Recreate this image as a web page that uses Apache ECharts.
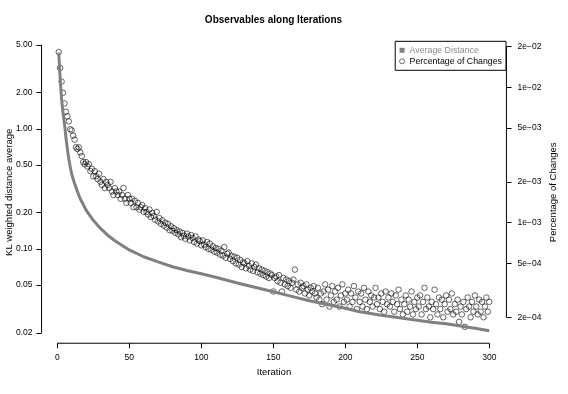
<!DOCTYPE html>
<html><head><meta charset="utf-8">
<script src="https://cdn.jsdelivr.net/npm/echarts@6/dist/echarts.min.js"></script>
<style>html,body{margin:0;padding:0;background:#fff}#c{width:568px;height:394px}</style>
</head><body><div id="c"></div>
<script>
const chartTitle = "Observables along Iterations";
const xName = "Iteration";
const leftName = "KL weighted distance average";
const rightName = "Percentage of Changes";
const xTicks = [0, 50, 100, 150, 200, 250, 300];
const leftTicks = [0.02, 0.05, 0.1, 0.2, 0.5, 1, 2, 5];
const rightTicks = [2e-4, 5e-4, 1e-3, 2e-3, 5e-3, 1e-2, 2e-2];

// Average Distance (left axis), read at selected iterations
const distIter = [1, 2, 3, 4, 5, 6, 7, 8, 9, 10, 12, 14, 16, 18, 20, 25, 30, 35, 40, 50, 60, 70, 80, 90, 100, 110, 125, 140, 150, 160, 175, 190, 200, 210, 225, 240, 250, 260, 270, 280, 290, 300];
const distValue = [4.3, 2.6, 1.75, 1.35, 1.1, 0.85, 0.68, 0.56, 0.48, 0.42, 0.35, 0.30, 0.26, 0.235, 0.21, 0.173, 0.148, 0.13, 0.117, 0.098, 0.086, 0.078, 0.071, 0.066, 0.062, 0.058, 0.052, 0.047, 0.044, 0.041, 0.037, 0.034, 0.032, 0.030, 0.028, 0.0265, 0.0255, 0.0245, 0.0238, 0.0228, 0.0218, 0.0208];

// Percentage of Changes (right axis), iterations 1..300
const pctChanges = [
0.0182,0.0139,0.0110,0.0091,0.0076,0.0066,0.0061,0.0056,0.0049,0.0048,
0.0044,0.0041,0.0036,0.0035,0.0036,0.0033,0.0031,0.0028,0.0027,0.0028,
0.0026,0.0027,0.0024,0.0025,0.0022,0.0024,0.0022,0.0021,0.0023,0.0020,
0.0019,0.0021,0.0018,0.0020,0.0019,0.0018,0.0020,0.0017,0.0016,0.0018,
0.0017,0.0016,0.0017,0.0015,0.0016,0.0018,0.0015,0.0014,0.0016,0.0015,
0.0014,0.0015,0.0013,0.00145,0.0013,0.0014,0.00125,0.0013,0.00135,0.0012,
0.00128,0.0012,0.00115,0.00125,0.0011,0.00118,0.00112,0.00105,0.0012,0.00102,
0.00108,0.00098,0.00104,0.00095,0.0010,0.00092,0.00098,0.00088,0.00094,0.00087,
0.00091,0.00084,0.00088,0.00082,0.00086,0.00078,0.00084,0.00080,0.00076,0.00083,
0.00079,0.00074,0.00081,0.00077,0.00072,0.00079,0.00070,0.00075,0.00073,0.00068,
0.00074,0.00069,0.00066,0.00072,0.00064,0.00070,0.00063,0.00067,0.00061,0.00065,
0.00060,0.00064,0.00058,0.00062,0.00057,0.00066,0.00055,0.00059,0.00060,0.00054,
0.00057,0.00052,0.00056,0.00050,0.00055,0.00049,0.00053,0.00047,0.00051,0.00050,
0.00046,0.00052,0.00048,0.00045,0.00050,0.00044,0.00047,0.00049,0.00043,0.00046,
0.00042,0.00045,0.00041,0.00044,0.00040,0.00043,0.00039,0.00042,0.00041,0.00031,
0.00039,0.00040,0.00037,0.00041,0.00036,0.00031,0.00039,0.00035,0.00038,0.00034,
0.00037,0.00033,0.00036,0.00038,0.00045,0.00032,0.00035,0.00031,0.00036,0.00033,
0.00034,0.00030,0.00035,0.00032,0.00029,0.00033,0.00031,0.00034,0.00030,0.00028,
0.00033,0.00027,0.00030,0.00025,0.00031,0.00035,0.00027,0.00032,0.00024,0.00029,
0.00034,0.00026,0.00031,0.00027,0.00033,0.00024,0.00029,0.00035,0.00026,0.00030,
0.00027,0.00032,0.00024,0.00030,0.00026,0.00034,0.00028,0.00023,0.00031,0.00026,
0.00030,0.00024,0.00033,0.00027,0.00023,0.00031,0.00026,0.00029,0.00024,0.00028,
0.00033,0.00025,0.00028,0.00023,0.00030,0.00026,0.00022,0.00031,0.00025,0.00028,
0.00024,0.00030,0.00026,0.00022,0.00029,0.00025,0.00032,0.00023,0.00027,0.00021,
0.00025,0.00029,0.00022,0.00027,0.00024,0.00031,0.00021,0.00026,0.00023,0.00028,
0.00024,0.00029,0.00021,0.00026,0.00033,0.00023,0.00028,0.00024,0.00020,0.00026,
0.00023,0.00032,0.00025,0.00021,0.00028,0.00023,0.00027,0.00020,0.00025,0.00029,
0.00022,0.00027,0.00023,0.00030,0.00021,0.00025,0.00022,0.00027,0.000185,0.00024,
0.00021,0.00026,0.00017,0.00023,0.00028,0.00024,0.00020,0.00026,0.00022,0.00029,
0.00024,0.00021,0.00027,0.00022,0.00026,0.00020,0.00024,0.00028,0.00022,0.00026
];

const FONT = "'Liberation Sans', Arial, Helvetica, sans-serif";
const L = Math.log10;
// plot-region extents (R style, 4% padding)
const xMin = -10.96, xMax = 311.96;
const leftLo = -1.786, leftHi = 0.728;
const rightLo = -3.891, rightHi = -1.6606;
// axis lines sit on the plot-region edge (nudged inside the extent so they are kept)
const xEdgeL = xMin + 0.05, xEdgeR = xMax - 0.05, yEdgeB = leftLo + 0.0005;

const fmtLeft = v => Math.pow(10, v).toFixed(2);
const fmtRight = v => {
  const n = Math.pow(10, v);
  const e = Math.floor(Math.log10(n) + 1e-9);
  const m = Math.round(n / Math.pow(10, e));
  return m + 'e' + (e < 0 ? '\u2212' : '+') + String(Math.abs(e)).padStart(2, '0');
};

const lineData = distIter.map((x, i) => [x, L(distValue[i])]);
const scatterData = pctChanges.map((v, i) => [i + 1, L(v)]);
const axisLineStyle = { color: '#000', width: 1, type: 'solid' };

function axisSeg(yIdx, pts) {
  return {
    type: 'line', yAxisIndex: yIdx, data: pts, symbol: 'none', showSymbol: false,
    clip: false, silent: true, z: 5, legendHoverLink: false,
    lineStyle: axisLineStyle, tooltip: { show: false }
  };
}

const chart = echarts.init(document.getElementById('c'), null, { renderer: 'canvas' });
chart.setOption({
  animation: false,
  backgroundColor: '#fff',
  textStyle: { fontFamily: FONT },
  title: {
    text: chartTitle, left: 273.5, top: 15.5, textAlign: 'center', padding: 0,
    textStyle: { fontSize: 10, fontWeight: 'bold', color: '#000', fontFamily: FONT }
  },
  legend: {
    orient: 'vertical', right: 62, top: 41.3,
    selectedMode: false,
    itemWidth: 5, itemHeight: 5, itemGap: 1,
    padding: [4, 4, 4, 4],
    borderColor: '#000', borderWidth: 1, backgroundColor: '#fff',
    textStyle: { fontSize: 8.8, fontFamily: FONT, color: '#000', lineHeight: 10 },
    data: [
      { name: 'Average Distance', icon: 'rect', itemStyle: { color: '#808080', borderWidth: 0 }, textStyle: { color: '#8a8a8a' } },
      { name: 'Percentage of Changes', icon: 'circle', itemStyle: { color: '#fff', borderColor: '#000', borderWidth: 0.7 } }
    ]
  },
  grid: { left: 41.5, right: 61.5, top: 41.3, bottom: 50.7, containLabel: false, outerBoundsMode: 'none' },
  xAxis: {
    type: 'value', min: xMin, max: xMax,
    name: xName, nameLocation: 'middle', nameGap: 24.5, nameMoveOverlap: false,
    nameTextStyle: { fontSize: 9.5, color: '#000', fontFamily: FONT },
    axisLine: { show: false, onZero: false }, splitLine: { show: false },
    axisTick: { show: true, inside: false, length: 5, customValues: xTicks, lineStyle: axisLineStyle },
    axisLabel: { customValues: xTicks, margin: 10, fontSize: 8.5, color: '#000', fontFamily: FONT, showMinLabel: true, showMaxLabel: true, hideOverlap: false }
  },
  yAxis: [
    {
      type: 'value', position: 'left', min: leftLo, max: leftHi,
      name: leftName, nameLocation: 'middle', nameGap: 27, nameRotate: 90, nameMoveOverlap: false,
      nameTextStyle: { fontSize: 9.5, color: '#000', fontFamily: FONT },
      axisLine: { show: false, onZero: false }, splitLine: { show: false },
      axisTick: { show: true, inside: false, length: 5, customValues: leftTicks.map(L), lineStyle: axisLineStyle },
      axisLabel: { customValues: leftTicks.map(L), formatter: fmtLeft, margin: 9, fontSize: 8.5, color: '#000', fontFamily: FONT, hideOverlap: false }
    },
    {
      type: 'value', position: 'right', min: rightLo, max: rightHi,
      name: rightName, nameLocation: 'middle', nameGap: 42, nameRotate: 90, nameMoveOverlap: false,
      nameTextStyle: { fontSize: 9.5, color: '#000', fontFamily: FONT },
      axisLine: { show: false, onZero: false }, splitLine: { show: false },
      axisTick: { show: true, inside: false, length: 5, customValues: rightTicks.map(L), lineStyle: axisLineStyle },
      axisLabel: { customValues: rightTicks.map(L), formatter: fmtRight, margin: 11, fontSize: 8.5, color: '#000', fontFamily: FONT, hideOverlap: false }
    }
  ],
  series: [
    {
      name: 'Average Distance', type: 'line', yAxisIndex: 0, data: lineData,
      showSymbol: false, symbol: 'none', clip: false, smooth: false,
      lineStyle: { color: '#808080', width: 3 },
      itemStyle: { color: '#808080' }
    },
    {
      name: 'Percentage of Changes', type: 'scatter', yAxisIndex: 1, data: scatterData,
      symbol: 'circle', symbolSize: 5.5, clip: false,
      itemStyle: { color: 'rgba(0,0,0,0)', borderColor: '#000', borderWidth: 0.75 }
    },
    // axis lines (R style: span first to last tick, at the plot-region edge)
    axisSeg(0, [[xEdgeL, L(leftTicks[0])], [xEdgeL, L(leftTicks[leftTicks.length - 1])]]),
    axisSeg(0, [[xTicks[0], yEdgeB], [xTicks[xTicks.length - 1], yEdgeB]]),
    axisSeg(1, [[xEdgeR, L(rightTicks[0])], [xEdgeR, L(rightTicks[rightTicks.length - 1])]])
  ]
});
</script>
</body></html>
